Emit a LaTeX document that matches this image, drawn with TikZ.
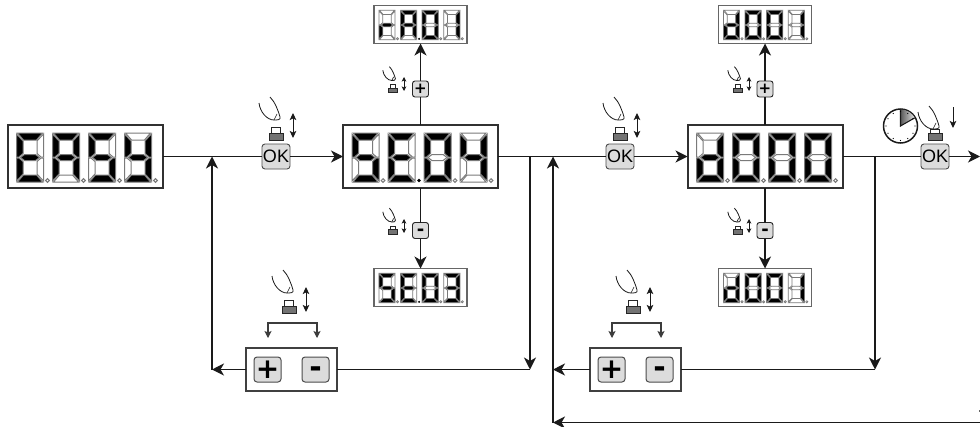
\documentclass[tikz,border=0pt]{standalone}
\usepackage{fontspec}
\setmainfont{Liberation Sans}
\newfontfamily\btnfont{DejaVu Sans}
\usetikzlibrary{arrows.meta}
\definecolor{lin}{HTML}{1A1A1A}
\definecolor{segoff}{HTML}{7A7A7A}
\definecolor{btn}{HTML}{DCDCDC}
\newcommand\midglyph[2]{\smash{\raisebox{#1}{#2}}}
\tikzset{
  conn/.style={draw=lin,line width=1.25pt},
  arr/.style={conn,-{Stealth[length=12pt,width=12pt,inset=3.5pt]}},
  thinarr/.style={draw=lin,line width=1pt},
  bigdisp/.style={draw=lin!90!white,line width=2pt,fill=white,minimum width=155pt,minimum height=63pt,inner sep=0pt,outer sep=0pt},
  smalldisp/.style={draw=black!60,line width=1.8pt,fill=white,minimum width=93pt,minimum height=38pt,inner sep=0pt,outer sep=0pt},
  okbtn/.style={draw=black!70,line width=.9pt,fill=btn,rounded corners=3pt,minimum width=28pt,minimum height=25pt,inner sep=0pt,outer sep=0pt,font=\fontsize{18}{18}\selectfont},
  smallbtn/.style={draw=black!85,line width=.9pt,fill=btn,rounded corners=2.5pt,minimum width=16pt,minimum height=16pt,inner sep=0pt,outer sep=0pt,font=\btnfont\bfseries\fontsize{15}{15}\selectfont},
  smallminus/.style={smallbtn,font=\btnfont\bfseries\fontsize{18}{18}\selectfont},
  panelbtn/.style={draw=black!70,line width=1pt,fill=btn,rounded corners=3pt,minimum width=27pt,minimum height=25pt,inner sep=0pt,outer sep=0pt,font=\btnfont\bfseries\fontsize{28}{28}\selectfont},
  panelminus/.style={panelbtn,font=\btnfont\bfseries\fontsize{30}{30}\selectfont},
  panel/.style={draw=black!75,line width=1.1pt,fill=white,minimum width=91pt,minimum height=43pt,inner sep=0pt,outer sep=0pt},
  segon/.style={draw=segoff,fill=black,line width=\seglw pt},
  segwhite/.style={draw=segoff,fill=white,line width=\seglw pt},
}
\newcommand\seg[2]{\if#11\draw[segon] #2 -- cycle;\else\draw[segwhite] #2 -- cycle;\fi}
\def\dgbits#1#2#3#4#5#6#7#8{%
  \seg{#1}{(1,0)--(26,0)--(20,7)--(7,7)}%
  \seg{#2}{(27,1)--(20.5,8)--(20.5,20.5)--(24.5,24)--(27,24)}%
  \seg{#3}{(27,25)--(24.5,25)--(20.5,28.5)--(20.5,41)--(27,48)}%
  \seg{#4}{(1,49)--(7,42)--(20,42)--(26,49)}%
  \seg{#5}{(0,25)--(2.5,25)--(6.5,28.5)--(6.5,41)--(0,48)}%
  \seg{#6}{(0,1)--(6.5,8)--(6.5,20.5)--(2.5,24)--(0,24)}%
  \seg{#7}{(4,24.5)--(8,21.5)--(19,21.5)--(23,24.5)--(19,27.5)--(8,27.5)}%
  \if#81\fill[black] (31,47.5) circle (1.9);\else\draw[segoff,fill=white,line width=\seglw pt] (31,47.5) circle (1.8);\fi
}
\newcommand\disp[7]{%
  \begin{scope}[shift={(#1,#2)},scale=#3]
    \begin{scope}[shift={(9,8)}]\dgbits#4\end{scope}
    \begin{scope}[shift={(45,8)}]\dgbits#5\end{scope}
    \begin{scope}[shift={(81,8)}]\dgbits#6\end{scope}
    \begin{scope}[shift={(117,8)}]\dgbits#7\end{scope}
  \end{scope}}
\newcommand\pressicon[5]{% x y scale handshift topheight
  \begin{scope}[shift={(#1,#2)},scale=#3]
    \draw[fill=white,draw=black!85,line width=.8pt] (-4.5,-#5-7) rectangle (4.5,-7);
    \draw[fill=black!55,draw=black!85,line width=.8pt] (-7,-7) rectangle (7,0);
    \begin{scope}[yshift=#4]
      \draw[line width=.8pt,draw=lin] (-17,-37) .. controls (-16,-28) and (-9,-20) .. (-2,-20)
        .. controls (1,-20) and (5,-20) .. (4,-23) .. controls (2,-30) and (-1,-38) .. (-6,-43);
      \draw[line width=.6pt,draw=lin] (1,-26) -- (-2,-20);
    \end{scope}
  \end{scope}}
\newcommand\updown[3]{\draw[thinarr,{Stealth[length=7pt,width=6.5pt,inset=1.5pt]}-{Stealth[length=7pt,width=6.5pt,inset=1.5pt]}] (#1,#2) -- (#1,#3);}
\newcommand\smallupdown[3]{\draw[thinarr,line width=.8pt,{Stealth[length=4.5pt,width=4.5pt,inset=1pt]}-{Stealth[length=4.5pt,width=4.5pt,inset=1pt]}] (#1,#2) -- (#1,#3);}
\newcommand\bracket[3]{%
  \draw[draw=lin!85!white,line width=1.1pt,-{Stealth[length=7pt,width=7pt,inset=1.5pt]}] (#1,#3+1) -- (#1,#3+15);
  \draw[draw=lin!85!white,line width=1.1pt,-{Stealth[length=7pt,width=7pt,inset=1.5pt]}] (#2,#3+1) -- (#2,#3+15);
  \draw[draw=lin!85!white,line width=1.1pt,line cap=rect] (#1,#3) -- (#2,#3);
  \draw[draw=lin!85!white,line width=1.1pt] (#1,#3) -- (#1,#3+2) (#2,#3) -- (#2,#3+2);}
\begin{document}
\begin{tikzpicture}[x=1pt,y=-1pt]
\useasboundingbox (0,0) rectangle (980,426);
\fill[white] (0,0) rectangle (980,426);
\node[bigdisp] (easy) at (85,156.5) {};
\node[bigdisp] (se) at (420.5,156.5) {};
\node[bigdisp] (dd) at (765,156.5) {};
\node[smalldisp] (ra) at (420.5,24.5) {};
\node[smalldisp] (se3) at (420.5,287.5) {};
\node[smalldisp] (d1t) at (765,24.5) {};
\node[smalldisp] (d1b) at (765,287.5) {};
\node[okbtn] (ok1) at (276,156.5) {OK};
\node[okbtn] (ok2) at (620,156.5) {OK};
\node[okbtn] (ok3) at (935,156.5) {OK};
\node[smallbtn] (p1) at (420.5,89) {\midglyph{-.31em}{+}};
\node[smallminus] (m1) at (420.5,230.5) {\midglyph{-.27em}{-}};
\node[smallbtn] (p2) at (765,89) {\midglyph{-.31em}{+}};
\node[smallminus] (m2) at (765,230.5) {\midglyph{-.27em}{-}};
\node[panel] (pan1) at (291.5,369.5) {};
\node[panel] (pan2) at (635.5,369.5) {};
\node[panelbtn] (pp1) at (267.5,369.5) {\midglyph{-.31em}{+}};
\node[panelminus] (pm1) at (315.5,369.5) {\midglyph{-.27em}{-}};
\node[panelbtn] (pp2) at (611.5,369.5) {\midglyph{-.31em}{+}};
\node[panelminus] (pm2) at (659.5,369.5) {\midglyph{-.27em}{-}};
\coordinate (j1) at (212,156.5);
\coordinate (j1b) at (212,369.5);
\coordinate (j2) at (530,156.5);
\coordinate (j2b) at (530,369.5);
\coordinate (j3) at (553,156.5);
\coordinate (j3m) at (553,369.5);
\coordinate (j3b) at (553,422.5);
\coordinate (j4) at (875,156.5);
\coordinate (j4b) at (875,369.5);
\coordinate (endr) at (980,156.5);
\coordinate (endb) at (980,422.5);
\draw[conn] (easy.east) -- (ok1.west);
\draw[arr] (ok1.east) -- (se.west);
\draw[arr] (j1b) -- (j1);
\draw[arr] (pan1.west) -- (j1b);
\draw[conn] (pan1.east) -- (j2b);
\draw[arr] (j2) -- (j2b);
\draw[conn] (se.east) -- (ok2.west);
\draw[arr] (ok2.east) -- (dd.west);
\draw[arr] (j3b) -- (j3);
\draw[arr] (pan2.west) -- (j3m);
\draw[arr,line width=1.4pt] (endb) -- (j3b);
\draw[conn] (pan2.east) -- (j4b);
\draw[arr] (j4) -- (j4b);
\draw[conn] (dd.east) -- (ok3.west);
\draw[arr] (ok3.east) -- (endr);
\draw[conn] (se.north) -- (p1.south);
\draw[arr] (p1.north) -- (ra.south);
\draw[conn] (se.south) -- (m1.north);
\draw[arr] (m1.south) -- (se3.north);
\draw[conn] (dd.north) -- (p2.south);
\draw[arr] (p2.north) -- (d1t.south);
\draw[conn] (dd.south) -- (m2.north);
\draw[arr] (m2.south) -- (d1b.north);
\def\seglw{1}
\disp{7.5}{125}{1}{1001111{0}}{1110111{0}}{1011011{0}}{0111011{0}}
\disp{343}{125}{1}{1011011{0}}{1001111{1}}{1111110{0}}{0110011{0}}
\disp{687.5}{125}{1}{0111101{0}}{1111110{0}}{1111110{0}}{1111110{0}}
\def\seglw{.75}
\disp{373.5}{5.5}{.6}{0000101{0}}{1110111{1}}{1111110{0}}{0110000{0}}
\disp{373.5}{268.5}{.6}{1011011{0}}{1001111{1}}{1111110{0}}{1111001{0}}
\disp{718}{5.5}{.6}{0111101{0}}{1111110{0}}{1111110{0}}{0110000{0}}
\disp{718}{268.5}{.6}{0111101{0}}{1111110{0}}{1111110{0}}{0110000{0}}
\pressicon{276}{140}{1}{0pt}{6}\updown{293}{113}{138}
\pressicon{620}{140}{1}{0pt}{6}\updown{637}{113}{138}
\pressicon{393}{92.5}{.6}{0pt}{6}\smallupdown{404}{77}{91}
\pressicon{393}{234}{.6}{0pt}{6}\smallupdown{404}{219}{233}
\pressicon{738}{92.5}{.6}{0pt}{6}\smallupdown{749}{77}{91}
\pressicon{738}{234}{.6}{0pt}{6}\smallupdown{749}{219}{233}
\pressicon{289}{313}{1}{0pt}{6}\updown{306}{287}{312}
\pressicon{633}{313}{1}{0pt}{6}\updown{650}{287}{312}
\pressicon{935}{140}{1}{-9pt}{4}
\draw[thinarr,-{Stealth[length=7pt,width=6.5pt,inset=1.5pt]}] (953,107) -- (953,128);
\bracket{268}{317}{323}
\bracket{612}{661}{323}
\coordinate (clk) at (900.5,126);
\draw[draw=lin,line width=1.5pt,fill=white] (clk) circle (17);
\shade[left color=black!65,right color=black!10] (clk) -- (900.5,109.5) arc[start angle=-90,end angle=-30,radius=16.5] -- cycle;
\draw[draw=lin,line width=1.1pt] (900.5,109.5) -- (clk) -- ++(14.3,-8.2);
\foreach \a in {0,30,...,330}{\fill[black] (clk) ++(\a:14.5) circle (.6);}
\fill[black!60] (979,410) rectangle (980,412);
\end{tikzpicture}
\end{document}
